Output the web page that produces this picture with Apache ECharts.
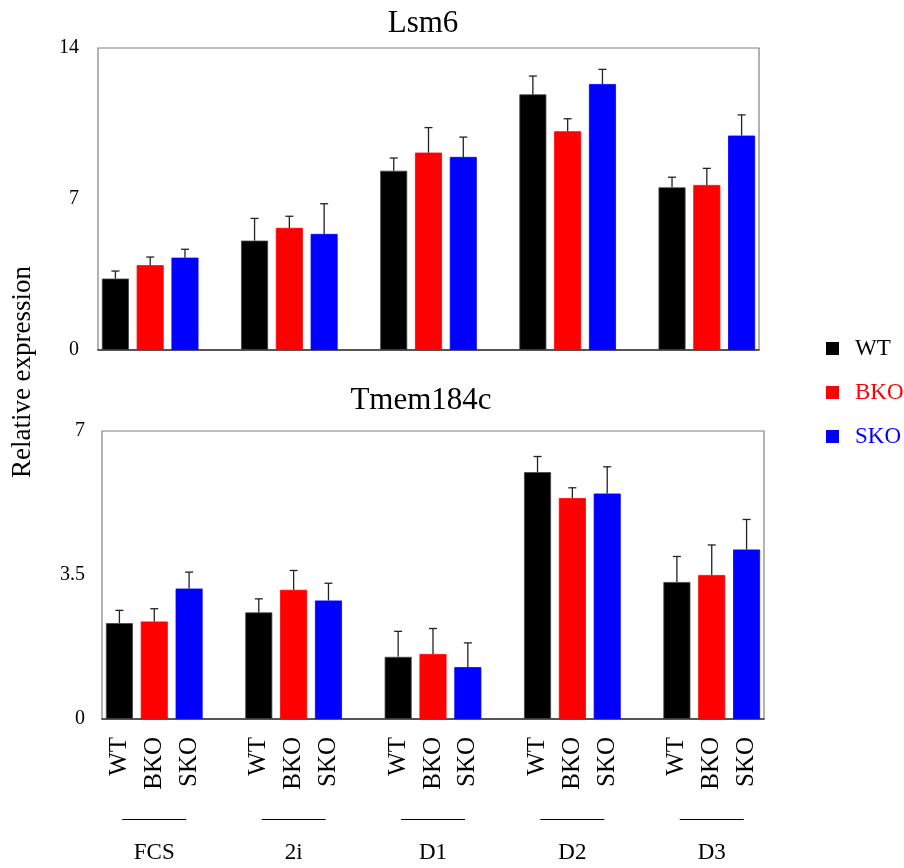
<!DOCTYPE html>
<html>
<head>
<meta charset="utf-8">
<script src="https://cdn.jsdelivr.net/npm/echarts@6/dist/echarts.min.js"></script>
<style>
html,body{margin:0;padding:0;background:#fff;}
#chart{width:904px;height:868px;}
</style>
</head>
<body>
<div id="chart"></div>
<script>
// ---- data ----
const groups = ['FCS', '2i', 'D1', 'D2', 'D3'];
const genotypes = ['WT', 'BKO', 'SKO'];
const colors = ['#000000', '#ff0000', '#0000ff'];

const lsm6WT  = [3.31, 5.07, 8.31, 11.85, 7.54];
const lsm6BKO = [3.93, 5.66, 9.15, 10.14, 7.65];
const lsm6SKO = [4.28, 5.38, 8.95, 12.33, 9.94];
const lsm6WTerr  = [0.35, 1.03, 0.59, 0.85, 0.47];
const lsm6BKOerr = [0.38, 0.54, 1.16, 0.58, 0.77];
const lsm6SKOerr = [0.39, 1.40, 0.92, 0.68, 0.96];

const tmemWT  = [2.33, 2.59, 1.51, 6.00, 3.33];
const tmemBKO = [2.37, 3.14, 1.58, 5.37, 3.50];
const tmemSKO = [3.17, 2.88, 1.26, 5.48, 4.12];
const tmemWTerr  = [0.31, 0.33, 0.62, 0.38, 0.62];
const tmemBKOerr = [0.31, 0.47, 0.62, 0.25, 0.73];
const tmemSKOerr = [0.40, 0.42, 0.59, 0.65, 0.73];

const lsm6Ticks = [0, 7, 14];
const tmemTicks = [0, 3.5, 7];

// ---- build slot-based categories (3 bars + 1 spacer per group) ----
const slotsPerGroup = 4;
const nSlots = groups.length * slotsPerGroup - 1;
const slotCats = [];
const groupCats = [];
for (let i = 0; i < nSlots; i++) {
  const g = Math.floor(i / slotsPerGroup), s = i % slotsPerGroup;
  slotCats.push(s < 3 ? genotypes[s] : ' ');
  groupCats.push(s === 1 ? groups[g] : ' ');
}
function slotData(vals, s) {
  const arr = new Array(nSlots).fill('-');
  vals.forEach((v, g) => { arr[g * slotsPerGroup + s] = v; });
  return arr;
}
function errData(vals, errs, s) {
  return vals.map((v, g) => [g * slotsPerGroup + s, v, v + errs[g]]);
}

const FONT = "'Liberation Serif', 'Times New Roman', serif";

const errRender = function (params, api) {
  const x = api.value(0);
  const p0 = api.coord([x, api.value(1)]);
  const p1 = api.coord([x, api.value(2)]);
  const hw = 4;
  const st = { stroke: '#222', lineWidth: 1.3 };
  return {
    type: 'group',
    children: [
      { type: 'line', shape: { x1: p0[0], y1: p0[1], x2: p1[0], y2: p1[1] }, style: st },
      { type: 'line', shape: { x1: p1[0] - hw, y1: p1[1], x2: p1[0] + hw, y2: p1[1] }, style: st }
    ]
  };
};

const panels = [
  { vals: [lsm6WT, lsm6BKO, lsm6SKO], errs: [lsm6WTerr, lsm6BKOerr, lsm6SKOerr] },
  { vals: [tmemWT, tmemBKO, tmemSKO], errs: [tmemWTerr, tmemBKOerr, tmemSKOerr] }
];

const series = [];
panels.forEach((p, gi) => {
  genotypes.forEach((name, s) => {
    series.push({
      name: name, type: 'bar', xAxisIndex: gi === 0 ? 0 : 1, yAxisIndex: gi,
      data: slotData(p.vals[s], s), barWidth: 27, barGap: '-100%',
      itemStyle: { color: colors[s], borderColor: s === 0 ? '#444' : colors[s], borderWidth: 0.8 },
      animation: false, z: 2
    });
  });
  genotypes.forEach((name, s) => {
    series.push({
      type: 'custom', xAxisIndex: gi === 0 ? 0 : 1, yAxisIndex: gi,
      renderItem: errRender, data: errData(p.vals[s], p.errs[s], s),
      encode: { x: 0, y: [1, 2] }, z: 3, animation: false, silent: true
    });
  });
});

const chart = echarts.init(document.getElementById('chart'), null, { renderer: 'canvas' });
chart.setOption({
  backgroundColor: '#fff',
  animation: false,
  textStyle: { fontFamily: FONT },
  title: [
    { text: 'Lsm6', left: 418, top: 3, textAlign: 'center',
      textStyle: { fontFamily: FONT, fontSize: 31, fontWeight: 'normal', color: '#000' } },
    { text: 'Tmem184c', left: 416, top: 380, textAlign: 'center',
      textStyle: { fontFamily: FONT, fontSize: 31, fontWeight: 'normal', color: '#000' } }
  ],
  legend: {
    orient: 'vertical', left: 826, top: 337, padding: 0, itemWidth: 13, itemHeight: 13, itemGap: 21,
    icon: 'rect',
    itemStyle: { borderWidth: 0 },
    data: genotypes.map((g, i) => ({ name: g, textStyle: { color: colors[i] } })),
    textStyle: { fontFamily: FONT, fontSize: 23, padding: [0, 0, 0, 11] }
  },
  grid: [
    { left: 98, top: 48, right: 145, bottom: 518, show: true, borderColor: '#808080', borderWidth: 1.2 },
    { left: 102, top: 431, right: 140, bottom: 149, show: true, borderColor: '#808080', borderWidth: 1.2 }
  ],
  xAxis: [
    { type: 'category', gridIndex: 0, data: slotCats, boundaryGap: true,
      axisLine: { lineStyle: { color: '#333', width: 1.5 } }, axisTick: { show: false },
      axisLabel: { show: false } },
    { type: 'category', gridIndex: 1, data: slotCats, boundaryGap: true,
      axisLine: { lineStyle: { color: '#333', width: 1.5 } }, axisTick: { show: false },
      axisLabel: { interval: 0, rotate: 90, margin: 18, fontSize: 25, color: '#000', fontFamily: FONT } },
    { type: 'category', gridIndex: 1, data: groupCats, boundaryGap: true, position: 'bottom', offset: 100,
      axisLine: { show: false }, axisTick: { show: false },
      axisLabel: {
        interval: 0, margin: 0, color: '#000', fontFamily: FONT,
        formatter: function (v) { return v.trim() ? '{u| }\n{g|' + v + '}' : ''; },
        rich: {
          u: { width: 64, height: 1, lineHeight: 1, fontSize: 1, backgroundColor: '#000' },
          g: { fontSize: 23, lineHeight: 24, padding: [42, 0, 0, 0], fontFamily: FONT, color: '#000' }
        }
      } }
  ],
  yAxis: [
    { type: 'value', gridIndex: 0, min: lsm6Ticks[0], max: lsm6Ticks[2], interval: lsm6Ticks[1] - lsm6Ticks[0],
      axisLine: { show: false }, axisTick: { show: false }, splitLine: { show: false },
      axisLabel: { margin: 19, fontSize: 20, color: '#000', fontFamily: FONT } },
    { type: 'value', gridIndex: 1, min: tmemTicks[0], max: tmemTicks[2], interval: tmemTicks[1] - tmemTicks[0],
      axisLine: { show: false }, axisTick: { show: false }, splitLine: { show: false },
      axisLabel: { margin: 17, fontSize: 20, color: '#000', fontFamily: FONT } }
  ],
  graphic: [
    { type: 'text', x: 23, y: 372, rotation: Math.PI / 2,
      style: { text: 'Relative expression', font: '27px ' + FONT, fill: '#000', align: 'center', verticalAlign: 'middle' } }
  ],
  series: series
});
</script>
</body>
</html>
